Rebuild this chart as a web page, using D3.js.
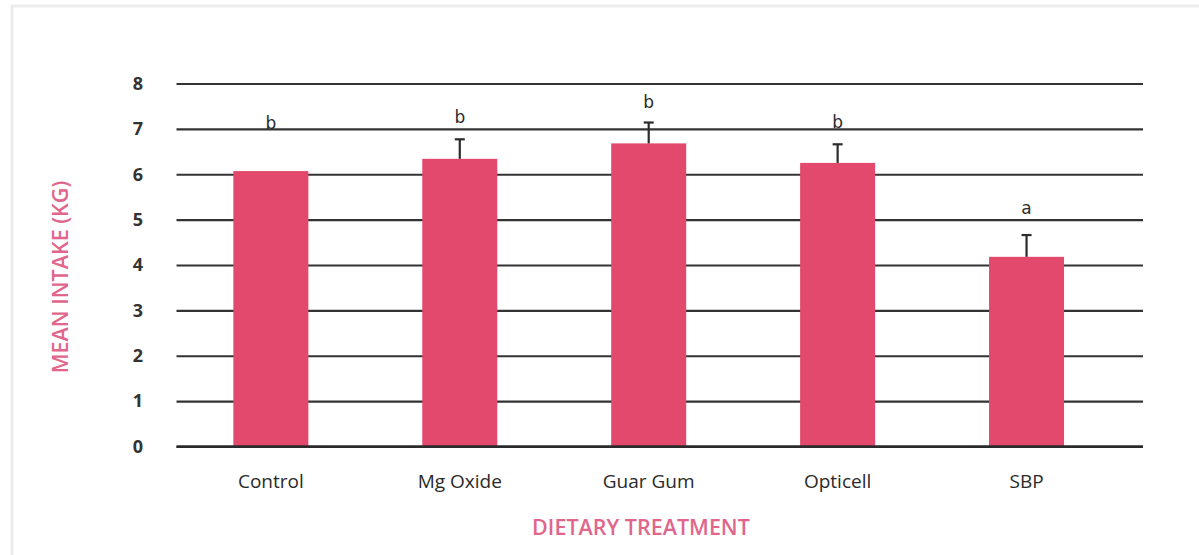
<!DOCTYPE html>
<html>
<head>
<meta charset="utf-8">
<script src="https://cdn.jsdelivr.net/npm/d3@7"></script>
<style>
  html, body { margin: 0; padding: 0; background: #ffffff; }
  svg { display: block; }
</style>
</head>
<body>
<svg id="chart" width="1199" height="555"></svg>
<script>
// Mean intake per dietary treatment, with standard error and significance groups
const treatments = ["Control", "Mg Oxide", "Guar Gum", "Opticell", "SBP"];
const meanIntake = [6.07, 6.34, 6.68, 6.25, 4.18];
const stdError = [0, 0.43, 0.46, 0.41, 0.48];
const groupLetters = ["b", "b", "b", "b", "a"];
// height (kg) at which each group letter sits
const letterLevel = [7.13, 7.27, 7.6, 7.16, 5.25];
const yTicks = [0, 1, 2, 3, 4, 5, 6, 7, 8];

const svg = d3.select("#chart");
const W = 1199, H = 555;

const barColor = "#e2496d";
const titleColor = "#e0668c";
const inkColor = "#2b2b2b";

// light frame around the figure
svg.append("rect")
  .attr("x", 12).attr("y", 6)
  .attr("width", W + 10).attr("height", H + 10)
  .attr("fill", "none")
  .attr("stroke", "#ececec")
  .attr("stroke-width", 3);

const x = d3.scaleBand()
  .domain(treatments)
  .range([176.4, 1121])
  .paddingInner(0.603)
  .paddingOuter(0.3015);

const y = d3.scaleLinear()
  .domain([0, 8])
  .range([446.5, 83.5]);

const gridLeft = 176.5, gridRight = 1143;

// horizontal gridlines from the y axis
const yAxis = d3.axisLeft(y)
  .tickValues(yTicks)
  .tickSize(-(gridRight - gridLeft))
  .tickPadding(0)
  .tickFormat(d3.format("d"));

const gy = svg.append("g")
  .attr("transform", `translate(${gridLeft},0)`)
  .call(yAxis);
gy.select(".domain").remove();
gy.selectAll(".tick line")
  .attr("stroke", "#333")
  .attr("stroke-width", 2.2);
gy.selectAll(".tick text")
  .attr("x", -38.5)
  .attr("text-anchor", "middle")
  .attr("fill", "#333")
  .style("font-family", "'Open Sans', sans-serif")
  .style("font-weight", "bold")
  .style("font-size", "18px");

// bars
svg.append("g").selectAll("rect")
  .data(treatments)
  .join("rect")
  .attr("x", d => x(d))
  .attr("width", x.bandwidth())
  .attr("y", (d, i) => y(meanIntake[i]))
  .attr("height", (d, i) => y(0) - y(meanIntake[i]))
  .attr("fill", barColor);

// baseline redrawn over bars
svg.append("line")
  .attr("x1", gridLeft).attr("x2", gridRight)
  .attr("y1", y(0)).attr("y2", y(0))
  .attr("stroke", "#2a2a2a")
  .attr("stroke-width", 2.5);

// error bars (upper half only)
const eb = svg.append("g")
  .selectAll("g")
  .data(treatments.filter((d, i) => stdError[i] > 0))
  .join("g");
eb.append("line")
  .attr("x1", d => x(d) + x.bandwidth() / 2)
  .attr("x2", d => x(d) + x.bandwidth() / 2)
  .attr("y1", d => y(meanIntake[treatments.indexOf(d)]))
  .attr("y2", d => { const i = treatments.indexOf(d); return y(meanIntake[i] + stdError[i]); })
  .attr("stroke", inkColor)
  .attr("stroke-width", 2.2);
eb.append("line")
  .attr("x1", d => x(d) + x.bandwidth() / 2 - 5)
  .attr("x2", d => x(d) + x.bandwidth() / 2 + 5)
  .attr("y1", d => { const i = treatments.indexOf(d); return y(meanIntake[i] + stdError[i]); })
  .attr("y2", d => { const i = treatments.indexOf(d); return y(meanIntake[i] + stdError[i]); })
  .attr("stroke", inkColor)
  .attr("stroke-width", 2.2);

// significance letters
svg.append("g").selectAll("text")
  .data(treatments)
  .join("text")
  .attr("x", d => x(d) + x.bandwidth() / 2)
  .attr("y", (d, i) => y(letterLevel[i]))
  .attr("dy", "0.35em")
  .attr("text-anchor", "middle")
  .attr("fill", inkColor)
  .style("font-family", "'DejaVu Sans', sans-serif")
  .style("font-size", "17px")
  .text((d, i) => groupLetters[i]);

// category labels
svg.append("g").selectAll("text")
  .data(treatments)
  .join("text")
  .attr("x", d => x(d) + x.bandwidth() / 2)
  .attr("y", 481)
  .attr("dy", "0.35em")
  .attr("text-anchor", "middle")
  .attr("fill", "#2a2a2a")
  .style("font-family", "'Open Sans', sans-serif")
  .style("font-weight", "500")
  .style("font-size", "19px")
  .text(d => d);

// axis titles
svg.append("text")
  .attr("x", 641).attr("y", 527)
  .attr("dy", "0.35em")
  .attr("text-anchor", "middle")
  .attr("fill", titleColor)
  .style("font-family", "'Open Sans', sans-serif")
  .style("font-weight", "600")
  .style("font-size", "21.5px")
  .text("DIETARY TREATMENT");

svg.append("text")
  .attr("transform", "translate(60,277) rotate(-90)")
  .attr("dy", "0.35em")
  .attr("text-anchor", "middle")
  .attr("fill", titleColor)
  .style("font-family", "'Open Sans', sans-serif")
  .style("font-weight", "600")
  .style("font-size", "21.5px")
  .text("MEAN INTAKE (KG)");
</script>
</body>
</html>
